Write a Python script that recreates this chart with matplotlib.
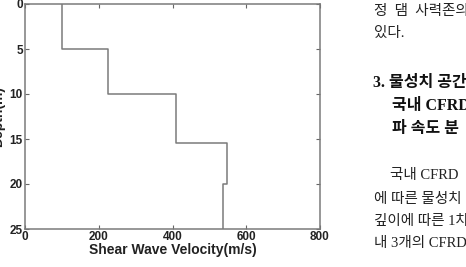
import matplotlib
matplotlib.use("Agg")
import matplotlib.pyplot as plt

# ── data (step profile)
depth_edges = [0, 5, 10, 15.4, 20, 25]          # layer boundaries (m)
velocity = [100, 225, 410, 548, 538]            # shear wave velocity per layer (m/s)
x_ticks = [0, 200, 400, 600, 800]
y_ticks = [0, 5, 10, 15, 20, 25]

# ── surrounding document text (right column, clipped in the reference)
body_top = ["정  댐  사력존의", "있다."]
heading = ["3. 물성치 공간", "국내 CFRD", "파 속도 분"]
body_bottom = ["국내 CFRD", "에 따른 물성치", "깊이에 따른 1차", "내 3개의 CFRD"]

W, H = 466, 267
fig = plt.figure(figsize=(W / 100, H / 100), dpi=100)
ax = fig.add_axes([25 / W, 1 - 229 / H, 295 / W, 225 / H])

# build step line from the layer lists
xs, ys = [], []
for i, v in enumerate(velocity):
    xs += [v, v]
    ys += [depth_edges[i], depth_edges[i + 1]]
ax.plot(xs, ys, color="#7a7a7a", linewidth=1.1)

ax.set_xlim(0, 800)
ax.set_ylim(25, 0)
ax.set_xticks(x_ticks)
ax.set_yticks(y_ticks)

tick_font = dict(family="Liberation Sans", weight="bold", size=8.5)
ax.set_xticklabels([str(t) for t in x_ticks], **tick_font)
ax.set_yticklabels([str(t) for t in y_ticks], **tick_font)
ax.tick_params(direction="in", length=3, width=0.8, color="#666666",
               top=True, right=True, pad=1.5, labelcolor="#222222")
for s in ax.spines.values():
    s.set_color("#7a7a7a")
    s.set_linewidth(1.1)

ax.set_xlabel("Shear Wave Velocity(m/s)", family="Liberation Sans",
              weight="bold", size=10, color="#222222", labelpad=0)
ax.set_ylabel("Depth(m)", family="Liberation Sans", weight="bold",
              size=10, color="#222222")
ax.yaxis.set_label_coords(-0.066, 0.5)

# ── document text
kfam = ["Liberation Serif", "Noto Sans CJK KR"]


def px(x, y):
    return x / W, 1 - y / H


for txt, (x, y) in zip(body_top, [(374, 12), (374, 33)]):
    fig.text(*px(x, y), txt, family=kfam, size=10.5, va="center",
             color="#222222")
for txt, (x, y) in zip(heading, [(373, 83), (392, 106), (392, 129)]):
    fig.text(*px(x, y), txt, family=kfam, size=11.5, weight="bold",
             va="center", color="#111111")
for txt, (x, y) in zip(body_bottom, [(390, 176), (374, 200), (374, 222), (374, 243)]):
    fig.text(*px(x, y), txt, family=kfam, size=10.5, va="center",
             color="#222222")

fig.savefig("out.png", dpi=100)
plt.close(fig)
